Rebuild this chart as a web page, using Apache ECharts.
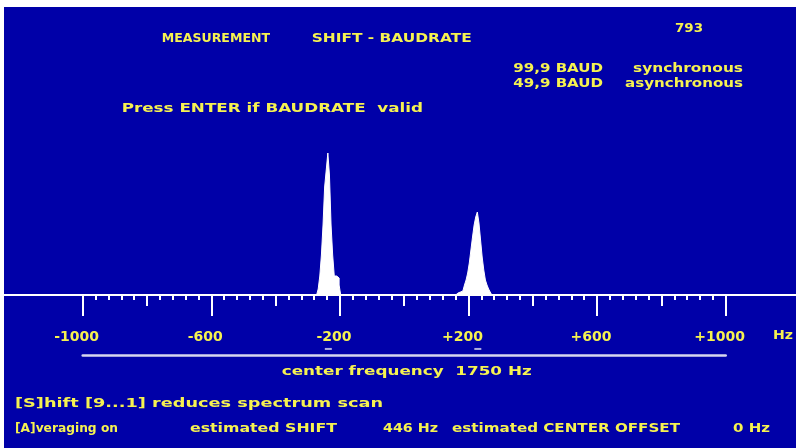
<!DOCTYPE html>
<html><head><meta charset="utf-8">
<script src="https://cdn.jsdelivr.net/npm/echarts@6/dist/echarts.min.js"></script>
<style>html,body{margin:0;padding:0;background:#ffffff;overflow:hidden;} #c{position:absolute;left:4px;top:7px;width:792px;height:441px;}</style>
</head><body><div id="c"></div>
<script>
// ---- data ----
const peak1Freq = [-280, -275, -270, -265, -260, -255, -250, -245, -240, -235, -230, -225, -220, -215, -210, -205, -200, -195];
const peak1Amp  = [0, 0, 2, 6, 19, 40, 70, 108, 125, 142, 120, 70, 40, 19, 19, 17, 10, 0];
const peak2Freq = [160, 165, 170, 175, 180, 185, 190, 195, 200, 205, 210, 215, 220, 225, 230, 235, 240, 245, 250, 255, 260, 265, 270, 275];
const peak2Amp  = [0, 2, 2, 3, 4, 6, 10, 15, 22, 32, 45, 58, 70, 78, 83, 72, 55, 38, 25, 15, 10, 6, 3, 0];
const peakMarkers = [-236, 229];
const axisMin = -1000, axisMax = 1000, majorStep = 400, midStep = 200;
const texts = [
  'MEASUREMENT', 'SHIFT - BAUDRATE', '793',
  '99,9 BAUD', 'synchronous', '49,9 BAUD', 'asynchronous',
  'Press ENTER if BAUDRATE  valid', 'Hz',
  'center frequency  1750 Hz',
  '[S]hift [9...1] reduces spectrum scan',
  '[A]veraging on', 'estimated SHIFT', '446 Hz', 'estimated CENTER OFFSET', '0 Hz'
];
// ---- layout (page px: left, right, vertical centre) ----
const textBoxes = [
  [161.7, 270, 38.3], [311.7, 471.7, 38.3], [675, 703, 28.3],
  [513.3, 603, 68.3], [633, 743, 68.3], [513.3, 603, 83.3], [625, 743, 83.3],
  [121.7, 423, 108.3], [773, 793, 336],
  [281.7, 531.7, 371.7],
  [15, 383, 404],
  [15, 118, 428.3], [190, 337, 428.3], [383, 438, 428.3], [452, 680, 428.3], [733, 770, 428.3]
];
const OX = 4, OY = 7;
const YELLOW = '#F6F250', BLUE = '#0000A8', LINE2 = '#D6D6EE';
const FONT_FAMILY = '"DejaVu Sans", sans-serif';
const FONT_SIZE = 13;

const cv = document.createElement('canvas').getContext('2d');
cv.font = 'bold ' + FONT_SIZE + 'px ' + FONT_FAMILY;
const graphics = texts.map((t, i) => {
  const b = textBoxes[i];
  const nat = cv.measureText(t).width;
  return {
    type: 'text', x: b[0] - OX, y: b[2] - OY, scaleX: (b[1] - b[0]) / nat,
    style: { text: t, fill: YELLOW, fontSize: FONT_SIZE, fontWeight: 'bold', fontFamily: FONT_FAMILY,
             align: 'left', verticalAlign: 'middle' }
  };
});

const chart = echarts.init(document.getElementById('c'), null, { renderer: 'canvas' });
chart.setOption({
  backgroundColor: BLUE,
  animation: false,
  grid: [
    { left: 82.7 - OX, top: 150 - OY, width: 643, height: 145 },
    { left: 0, right: 0, top: 150 - OY, height: 145 },
    { left: 82.7 - OX, top: 340 - OY, width: 643, height: 15.7 }
  ],
  xAxis: [
    { gridIndex: 0, type: 'value', position: 'bottom', min: axisMin, max: axisMax, interval: majorStep,
      axisLine: { show: false }, splitLine: { show: false },
      axisTick: { show: true, length: 21, lineStyle: { color: '#fff', width: 2 } },
      minorTick: { show: true, splitNumber: 10, length: 5, lineStyle: { color: '#fff', width: 2 } },
      axisLabel: { show: true, margin: 35, color: YELLOW, fontSize: 14, fontWeight: 'bold', fontFamily: FONT_FAMILY,
                   padding: [0, 12, 0, 0],
                   formatter: v => (v > 0 ? '+' + v : String(v)) } },
    { gridIndex: 0, type: 'value', position: 'bottom', min: axisMin, max: axisMax, interval: midStep,
      axisLine: { show: false }, splitLine: { show: false }, axisLabel: { show: false },
      axisTick: { show: true, length: 11, lineStyle: { color: '#fff', width: 2 } } },
    { gridIndex: 1, type: 'value', position: 'bottom', min: 0, max: 1,
      axisLine: { show: true, lineStyle: { color: '#fff', width: 2 } },
      axisTick: { show: false }, axisLabel: { show: false }, splitLine: { show: false } },
    { gridIndex: 2, type: 'value', position: 'bottom', min: axisMin, max: axisMax,
      axisLine: { show: true, lineStyle: { color: LINE2, width: 2.5 } },
      axisTick: { show: false }, axisLabel: { show: false }, splitLine: { show: false } }
  ],
  yAxis: [
    { gridIndex: 0, type: 'value', min: 0, max: 145, show: false },
    { gridIndex: 1, type: 'value', min: 0, max: 1, show: false },
    { gridIndex: 2, type: 'value', min: 0, max: 1, show: false }
  ],
  series: [
    { type: 'line', xAxisIndex: 0, yAxisIndex: 0, step: 'middle', symbol: 'none', clip: false,
      data: peak1Freq.map((f, i) => [f, peak1Amp[i]]),
      lineStyle: { color: '#fff', width: 1 }, areaStyle: { color: '#fff', opacity: 1 }, z: 5 },
    { type: 'line', xAxisIndex: 0, yAxisIndex: 0, step: 'middle', symbol: 'none', clip: false,
      data: peak2Freq.map((f, i) => [f, peak2Amp[i]]),
      lineStyle: { color: '#fff', width: 1 }, areaStyle: { color: '#fff', opacity: 1 }, z: 5 },
    { type: 'scatter', xAxisIndex: 3, yAxisIndex: 2, symbol: 'rect', symbolSize: [7, 2],
      data: peakMarkers.map(f => [f, 0.43]), itemStyle: { color: LINE2 } }
  ],
  graphic: graphics
});
</script></body></html>
